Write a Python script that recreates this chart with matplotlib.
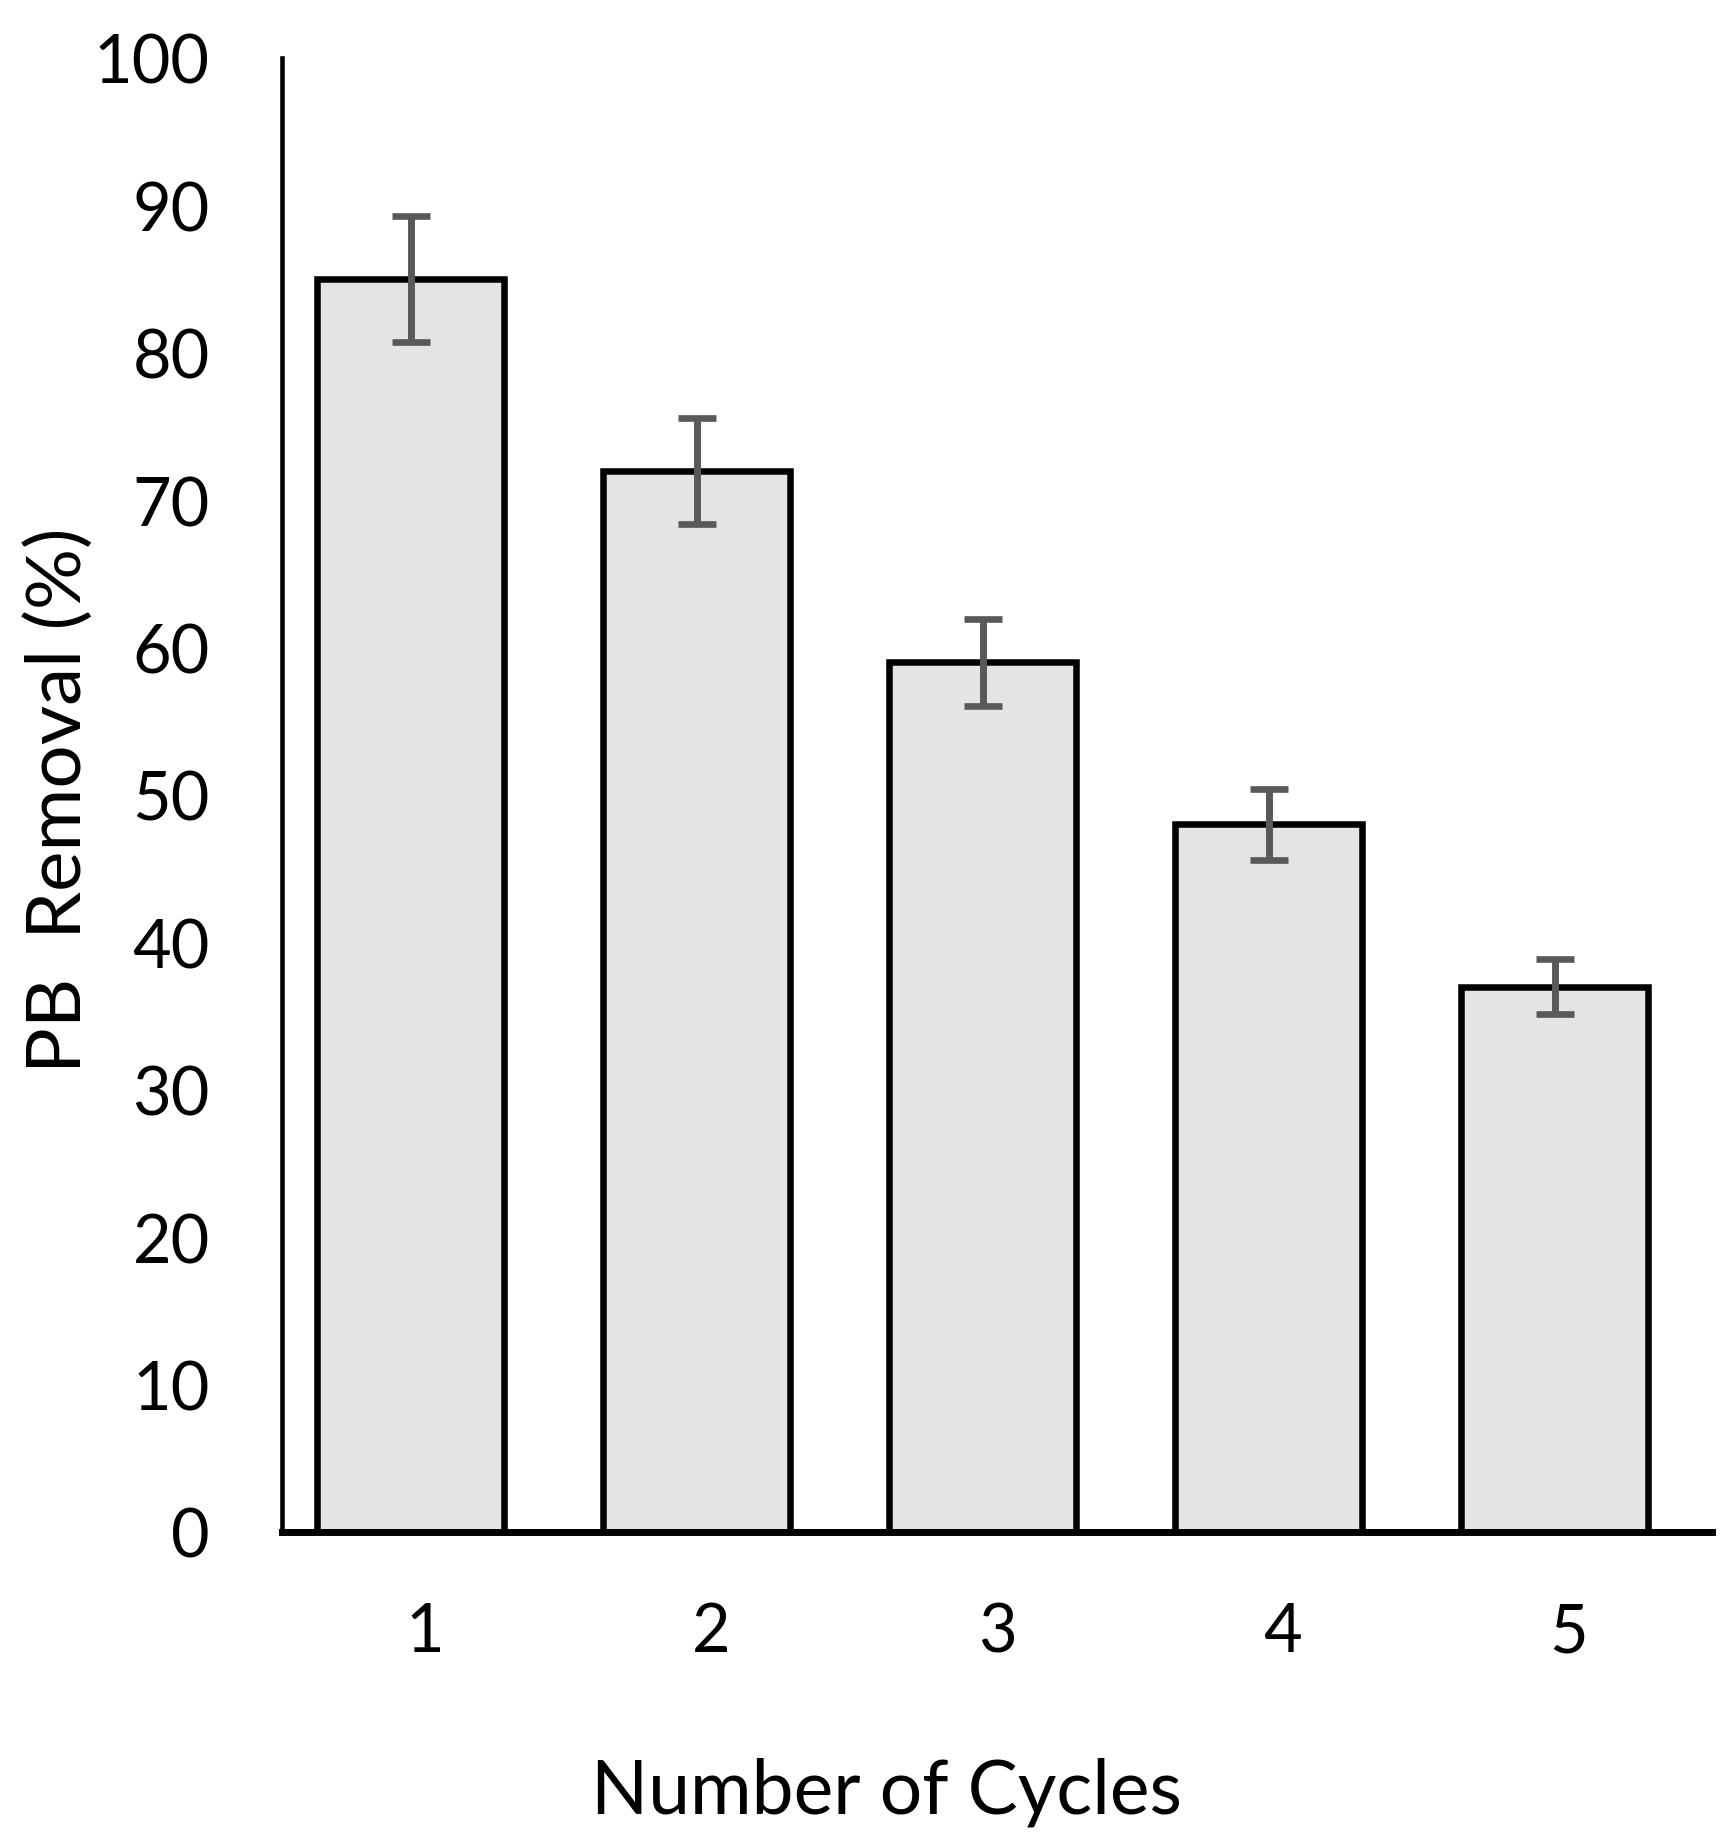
import matplotlib
matplotlib.use("Agg")
import matplotlib.pyplot as plt
import numpy as np

plt.rcParams['font.family'] = ['Lato', 'DejaVu Sans']

cycles = ["1", "2", "3", "4", "5"]
removal = [85, 72, 59, 48, 37]
errors = [4.25, 3.6, 2.95, 2.4, 1.85]
yticks = [0, 10, 20, 30, 40, 50, 60, 70, 80, 90, 100]

W, H = 1730, 1849
fig = plt.figure(figsize=(W / 100, H / 100), dpi=100)
ax = fig.add_axes([282 / W, 1 - 1533 / H, (1712 - 282) / W, (1533 - 59) / H])

pos = np.arange(1, len(cycles) + 1)
ax.bar(pos - 0.05, removal, width=0.655, color="#E4E4E4", edgecolor="black",
       linewidth=4.7, zorder=2)
ax.errorbar(pos - 0.05, removal, yerr=errors, fmt="none", ecolor="#595959",
            elinewidth=5, capsize=13.7, capthick=4.8, zorder=3)

ax.set_xlim(0.5, 5.5)
ax.set_ylim(0, 100)
ax.set_yticks(yticks)
ax.set_yticklabels([str(v) for v in yticks])
ax.set_xticks(pos)
ax.set_xticklabels(cycles)

for s in ["top", "right"]:
    ax.spines[s].set_visible(False)
ax.spines["left"].set_linewidth(3.3)
ax.spines["bottom"].set_linewidth(5)
ax.spines["bottom"].set_zorder(4)
ax.tick_params(axis="both", length=0, labelsize=48, colors="black")
ax.tick_params(axis="y", pad=52)
ax.tick_params(axis="x", pad=50)

fig.text(886 / W, 1 - 1814 / H, "Number of Cycles", fontsize=54,
         ha="center", va="baseline")
fig.text(81 / W, 1 - 800 / H, "PB  Removal (%)", fontsize=55, rotation=90,
         rotation_mode="anchor", ha="center", va="baseline")

fig.savefig("out.png", dpi=100, facecolor="white")
